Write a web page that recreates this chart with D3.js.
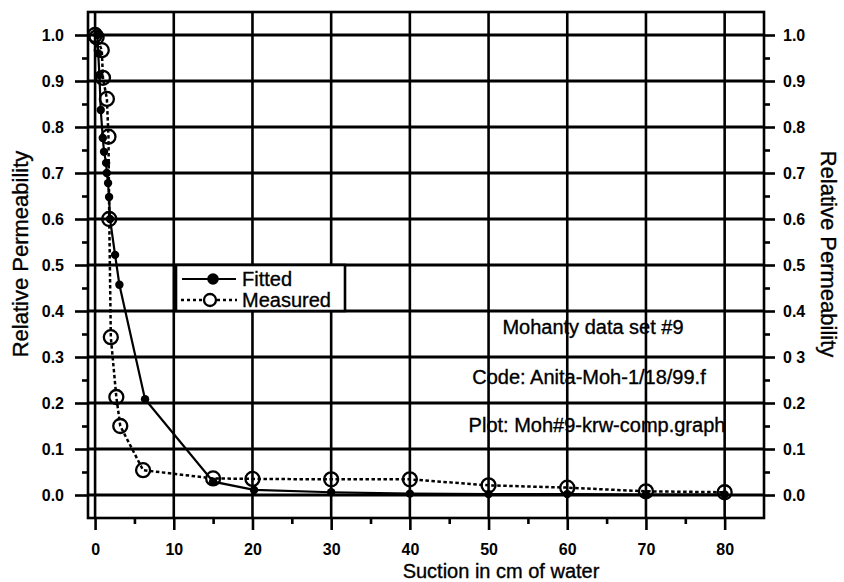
<!DOCTYPE html>
<html>
<head>
<meta charset="utf-8">
<script src="https://cdn.jsdelivr.net/npm/d3@7"></script>
<style>
  body { margin: 0; background: #fff; }
  svg text { font-family: "Liberation Sans", Arial, Helvetica, sans-serif; fill: #000; }
  .heavy { stroke: #000; stroke-width: 0.35px; }
</style>
</head>
<body>
<div id="chart"></div>
<script>
const width = 844;
const height = 582;

// measured relative permeability (open circles, dotted)
const measuredSuction = [0, 0.2, 0.85, 1.0, 1.5, 1.7, 1.8, 2.0, 2.7, 3.2, 6.1, 15, 20, 30, 40, 50, 60, 70, 80];
const measuredKr = [1.0, 0.995, 0.967, 0.907, 0.861, 0.779, 0.6, 0.343, 0.213, 0.15, 0.054, 0.036, 0.035, 0.034, 0.034, 0.021, 0.016, 0.008, 0.006];

// fitted curve (filled dots, solid)
const fittedSuction = [0.29, 0.4, 0.55, 0.72, 0.98, 1.14, 1.4, 1.49, 1.65, 1.78, 1.9, 2.54, 3.09, 6.35, 15, 20.2, 30, 40, 50, 60, 70, 80];
const fittedKr = [1.0, 0.96, 0.913, 0.837, 0.776, 0.746, 0.722, 0.7, 0.678, 0.648, 0.6, 0.522, 0.457, 0.208, 0.029, 0.011, 0.006, 0.003, 0.002, 0.002, 0.001, 0.001];

const xTicks = [0, 10, 20, 30, 40, 50, 60, 70, 80];
const xMinorTicks = [5, 15, 25, 35, 45, 55, 65, 75];
const yTicks = [0, 0.1, 0.2, 0.3, 0.4, 0.5, 0.6, 0.7, 0.8, 0.9, 1.0];
const yMinorTicks = [0.05, 0.15, 0.25, 0.35, 0.45, 0.55, 0.65, 0.75, 0.85, 0.95];
const leftLabels = ["0.0", "0.1", "0.2", "0.3", "0.4", "0.5", "0.6", "0.7", "0.8", "0.9", "1.0"];
const rightLabels = ["0.0", "0.1", "0.2", "0 3", "0.4", "0.5", "0.6", "0.7", "0.8", "0.9", "1.0"];

const notes = ["Mohanty data set #9", "Code: Anita-Moh-1/18/99.f", "Plot: Moh#9-krw-comp.graph"];

const frame = { left: 88, right: 764, top: 12, bottom: 518 };

const x = d3.scaleLinear().domain([-0.9, 85]).range([frame.left, frame.right]);
const y = d3.scaleLinear().domain([-0.05, 1.05]).range([frame.bottom, frame.top]);

const svg = d3
  .select("#chart")
  .append("svg")
  .attr("width", width)
  .attr("height", height);

// gridlines
svg
  .append("g")
  .selectAll("line")
  .data(yTicks)
  .join("line")
  .attr("x1", frame.left)
  .attr("x2", frame.right)
  .attr("y1", (d) => y(d))
  .attr("y2", (d) => y(d))
  .attr("stroke", "#000")
  .attr("stroke-width", 3);

svg
  .append("g")
  .selectAll("line")
  .data(xTicks)
  .join("line")
  .attr("x1", (d) => x(d))
  .attr("x2", (d) => x(d))
  .attr("y1", frame.top)
  .attr("y2", frame.bottom)
  .attr("stroke", "#000")
  .attr("stroke-width", 2.6);

// axes
function styleAxis(g) {
  g.select(".domain").remove();
  g.selectAll(".tick line").attr("stroke", "#000").attr("stroke-width", 2.6);
  g.selectAll(".tick text")
    .attr("font-size", 16)
    .attr("font-weight", "bold")
    .attr("fill", "#000")
    .attr("font-family", '"Liberation Sans", Arial, sans-serif');
}

svg
  .append("g")
  .attr("transform", `translate(${frame.left},0)`)
  .call(d3.axisLeft(y).tickValues(yTicks).tickSize(13).tickPadding(11).tickFormat((d, i) => leftLabels[i]))
  .call(styleAxis);

svg
  .append("g")
  .attr("transform", `translate(${frame.left},0)`)
  .call(d3.axisLeft(y).tickValues(yMinorTicks).tickSize(6).tickFormat(""))
  .call(styleAxis);

svg
  .append("g")
  .attr("transform", `translate(${frame.right},0)`)
  .call(d3.axisRight(y).tickValues(yTicks).tickSize(11).tickPadding(8).tickFormat((d, i) => rightLabels[i]))
  .call(styleAxis);

svg
  .append("g")
  .attr("transform", `translate(${frame.right},0)`)
  .call(d3.axisRight(y).tickValues(yMinorTicks).tickSize(6).tickFormat(""))
  .call(styleAxis);

svg
  .append("g")
  .attr("transform", `translate(0,${frame.bottom})`)
  .call(d3.axisBottom(x).tickValues(xTicks).tickSize(12).tickPadding(14))
  .call(styleAxis);

svg
  .append("g")
  .attr("transform", `translate(0,${frame.bottom})`)
  .call(d3.axisBottom(x).tickValues(xMinorTicks).tickSize(6).tickFormat(""))
  .call(styleAxis);

// frame
svg
  .append("rect")
  .attr("x", frame.left)
  .attr("y", frame.top)
  .attr("width", frame.right - frame.left)
  .attr("height", frame.bottom - frame.top)
  .attr("fill", "none")
  .attr("stroke", "#000")
  .attr("stroke-width", 2.6);

// axis titles
svg
  .append("text")
  .attr("class", "heavy")
  .attr("x", 501)
  .attr("y", 578)
  .attr("text-anchor", "middle")
  .attr("font-size", 20)
  .text("Suction in cm of water");

svg
  .append("text")
  .attr("class", "heavy")
  .attr("transform", "translate(28,254) rotate(-90)")
  .attr("text-anchor", "middle")
  .attr("font-size", 22)
  .text("Relative Permeability");

svg
  .append("text")
  .attr("class", "heavy")
  .attr("transform", "translate(821,254) rotate(90)")
  .attr("text-anchor", "middle")
  .attr("font-size", 22)
  .text("Relative Permeability");

// series
const measured = measuredSuction.map((s, i) => ({ s, k: measuredKr[i] }));
const fitted = fittedSuction.map((s, i) => ({ s, k: fittedKr[i] }));

const line = d3
  .line()
  .x((d) => x(d.s))
  .y((d) => y(d.k));

svg
  .append("path")
  .datum(measured)
  .attr("d", line)
  .attr("fill", "none")
  .attr("stroke", "#000")
  .attr("stroke-width", 2.5)
  .attr("stroke-dasharray", "3.5,2.5");

svg
  .append("path")
  .datum(fitted)
  .attr("d", line)
  .attr("fill", "none")
  .attr("stroke", "#000")
  .attr("stroke-width", 2.2);

svg
  .append("g")
  .selectAll("circle")
  .data(fitted)
  .join("circle")
  .attr("cx", (d) => x(d.s))
  .attr("cy", (d) => y(d.k))
  .attr("r", 4.2)
  .attr("fill", "#000");

svg
  .append("g")
  .selectAll("circle")
  .data(measured)
  .join("circle")
  .attr("cx", (d) => x(d.s))
  .attr("cy", (d) => y(d.k))
  .attr("r", 7)
  .attr("fill", "none")
  .attr("stroke", "#000")
  .attr("stroke-width", 2.3);

// notes
const noteBaselines = [334, 384, 432];
const noteCenters = [593, 589, 597];
svg
  .append("g")
  .selectAll("text")
  .data(notes)
  .join("text")
  .attr("class", "heavy")
  .attr("x", (d, i) => noteCenters[i])
  .attr("y", (d, i) => noteBaselines[i])
  .attr("text-anchor", "middle")
  .attr("font-size", 20)
  .text((d) => d);

// legend
const legend = svg.append("g");
legend
  .append("rect")
  .attr("x", 176)
  .attr("y", y(0.5))
  .attr("width", 169)
  .attr("height", y(0.4) - y(0.5))
  .attr("fill", "#fff")
  .attr("stroke", "#000")
  .attr("stroke-width", 2.6);

legend
  .append("line")
  .attr("x1", 182)
  .attr("x2", 236)
  .attr("y1", 279)
  .attr("y2", 279)
  .attr("stroke", "#000")
  .attr("stroke-width", 2.2);
legend.append("circle").attr("cx", 213).attr("cy", 279).attr("r", 5.8).attr("fill", "#000");
legend.append("text").attr("class", "heavy").attr("x", 242).attr("y", 286).attr("font-size", 20).text("Fitted");

legend
  .append("line")
  .attr("x1", 181)
  .attr("x2", 237)
  .attr("y1", 300)
  .attr("y2", 300)
  .attr("stroke", "#000")
  .attr("stroke-width", 2.5)
  .attr("stroke-dasharray", "3,3");
legend
  .append("circle")
  .attr("cx", 210)
  .attr("cy", 300)
  .attr("r", 6)
  .attr("fill", "#fff")
  .attr("stroke", "#000")
  .attr("stroke-width", 2.3);
legend.append("text").attr("class", "heavy").attr("x", 242).attr("y", 307).attr("font-size", 20).text("Measured");
</script>
</body>
</html>
